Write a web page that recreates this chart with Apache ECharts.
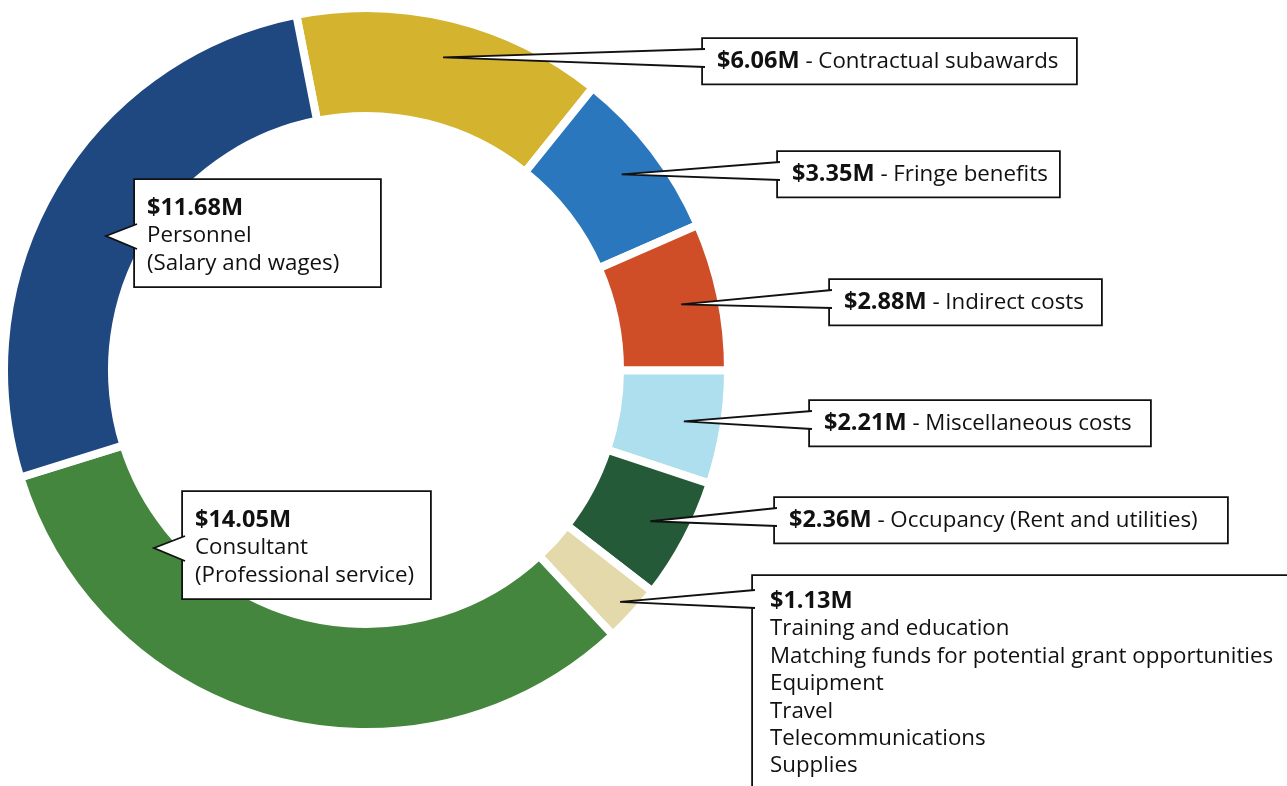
<!DOCTYPE html>
<html>
<head>
<meta charset="utf-8">
<script src="https://cdn.jsdelivr.net/npm/echarts@6/dist/echarts.min.js"></script>
<style>
  html, body { margin: 0; padding: 0; background: #fff; }
  #chart { width: 1287px; height: 786px; }
</style>
</head>
<body>
<div id="chart"></div>
<script>
// budget categories, clockwise from the top
const names = ['Contractual subawards', 'Fringe benefits', 'Indirect costs', 'Miscellaneous costs',
  'Occupancy (Rent and utilities)', 'Other', 'Consultant', 'Personnel'];
const values = [6.06, 3.35, 2.88, 2.21, 2.36, 1.13, 14.05, 11.68];
const notes = ['', '', '', '', '', '', '(Professional service)', '(Salary and wages)'];
const otherItems = ['Training and education', 'Matching funds for potential grant opportunities',
  'Equipment', 'Travel', 'Telecommunications', 'Supplies'];
const colors = ['#D4B42E', '#2A77BE', '#CF4E28', '#ADDFEE', '#245A37', '#E4D9AA', '#44863D', '#1F4780'];

// label box top-left corners and content widths
const boxPos = [[703, 39], [778, 152], [830, 280], [810, 401], [775, 498], [753, 576], [183, 492], [135, 180]];
const boxWidth = [347, 255, 245, 314, 426, 600, 225, 223];

const chart = echarts.init(document.getElementById('chart'));
const FONT = '"Open Sans", Lato, sans-serif';

function labelText(i) {
  const money = '{b|$' + values[i].toFixed(2) + 'M}';
  if (i === 5) return money + '\n' + otherItems.join('\n');
  if (notes[i]) return money + '\n' + names[i] + '\n' + notes[i];
  return money + ' - ' + names[i];
}

const seriesData = values.map((v, i) => {
  const item = { name: names[i], value: v, itemStyle: { color: colors[i] } };
  item.label = { width: boxWidth[i], overflow: 'none' };
  if (i === 5) {
    item.label.height = 230;
    item.label.padding = [12, 0, 0, 17];
  } else if (notes[i]) {
    item.label.padding = [15, 10, 9, 12];
  }
  return item;
});

chart.setOption({
  animation: false,
  series: [{
    type: 'pie',
    center: [366, 370],
    radius: [254, 362],
    startAngle: 101.1,
    clockwise: true,
    avoidLabelOverlap: false,
    itemStyle: { borderColor: '#fff', borderWidth: 8 },
    label: {
      show: true,
      position: 'outside',
      formatter: p => labelText(p.dataIndex),
      fontFamily: FONT,
      fontSize: 22.3,
      lineHeight: 27.4,
      color: '#111',
      backgroundColor: '#fff',
      borderColor: '#111',
      borderWidth: 1.8,
      padding: [9, 12, 8, 14],
      rich: {
        b: { fontFamily: FONT, fontSize: 23.5, lineHeight: 27.4, fontWeight: 'bold', color: '#111' }
      }
    },
    labelLine: { show: false },
    labelLayout: p => ({
      x: boxPos[p.dataIndex][0],
      y: boxPos[p.dataIndex][1],
      align: 'left',
      verticalAlign: 'top'
    }),
    emphasis: { disabled: true },
    data: seriesData
  }]
});

// callout tails, anchored on the laid-out sectors
const data = chart.getModel().getSeriesByIndex(0).getData();
const tails = [];
values.forEach((v, i) => {
  const [bx, by] = boxPos[i];
  let pts;
  if (notes[i]) {
    pts = [[bx + 2, by + 44], [bx - 29, by + 56], [bx + 2, by + 69]];
  } else {
    const l = data.getItemLayout(i);
    const mid = (l.startAngle + l.endAngle) / 2;
    const rr = i === 5 ? l.r - 18 : (l.r + l.r0) / 2 + 14;
    const ax = l.cx + rr * Math.cos(mid);
    const ay = l.cy + rr * Math.sin(mid);
    const top = i === 5 ? 14 : 10;
    pts = [[bx + 2, by + top], [ax, ay], [bx + 2, by + top + 18]];
  }
  tails.push({
    type: 'polyline',
    z: 100,
    shape: { points: pts },
    style: { fill: '#fff', stroke: '#111', lineWidth: 1.8, lineJoin: 'miter' }
  });
});
chart.setOption({ graphic: tails });
</script>
</body>
</html>
